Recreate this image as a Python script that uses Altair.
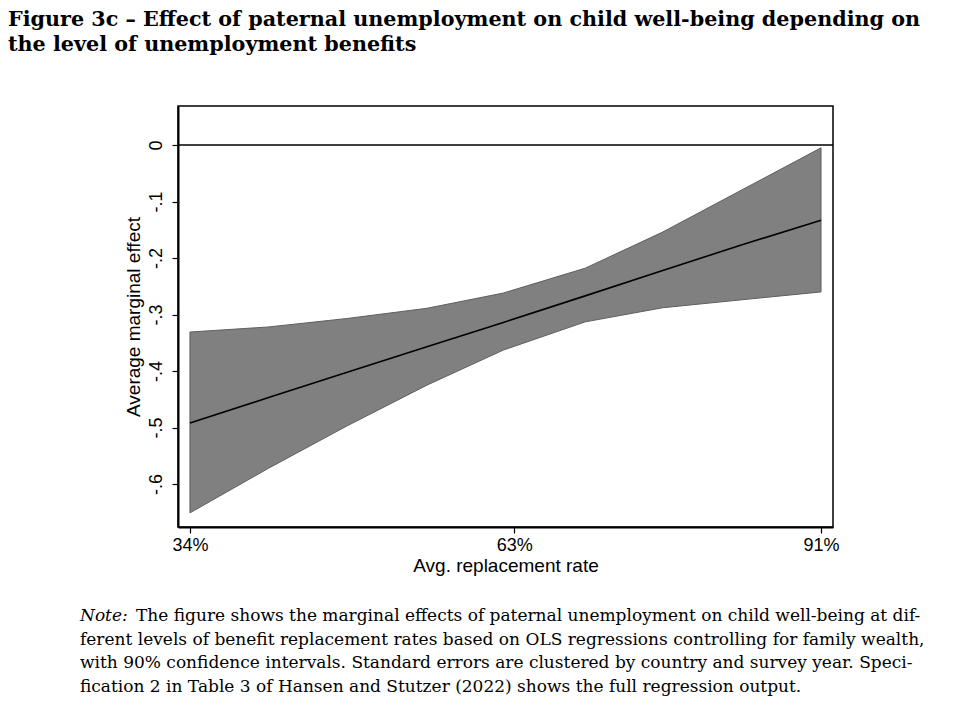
import altair as alt
import pandas as pd

# ---- data ----
rate = [34, 41.1, 48.2, 55.4, 62.3, 69.7, 76.7, 83.8, 91]
effect = [-0.492, -0.447, -0.402, -0.357, -0.314, -0.267, -0.222, -0.177, -0.133]
ci_upper = [-0.331, -0.322, -0.307, -0.289, -0.262, -0.218, -0.154, -0.080, -0.005]
ci_lower = [-0.651, -0.572, -0.497, -0.425, -0.363, -0.313, -0.288, -0.274, -0.260]

x_ticks = [34, 63.3, 91]
x_tick_labels = ["34%", "63%", "91%"]
y_ticks = [0, -0.1, -0.2, -0.3, -0.4, -0.5, -0.6]
y_tick_labels = ["0", "-.1", "-.2", "-.3", "-.4", "-.5", "-.6"]

title_lines = [
    "Figure 3c \u2013 Effect of paternal unemployment on child well-being depending on",
    "the level of unemployment benefits",
]
note_label = "Note:"
note_lines = [
    "The figure shows the marginal effects of paternal unemployment on child well-being at dif-",
    "ferent levels of benefit replacement rates based on OLS regressions controlling for family wealth,",
    "with 90% confidence intervals. Standard errors are clustered by country and survey year. Speci-",
    "fication 2 in Table 3 of Hansen and Stutzer (2022) shows the full regression output.",
]


def label_expr(vals, labels):
    expr = "''"
    for v, l in reversed(list(zip(vals, labels))):
        expr = f"datum.value == {v} ? '{l}' : ({expr})"
    return expr


df = pd.DataFrame({"rate": rate, "effect": effect, "hi": ci_upper, "lo": ci_lower})

x_enc = alt.X(
    "rate:Q",
    scale=alt.Scale(domain=[32.92, 92.08], nice=False, zero=False),
    axis=alt.Axis(
        values=x_ticks,
        labelExpr=label_expr(x_ticks, x_tick_labels),
        title="Avg. replacement rate",
        labelPadding=3,
        titlePadding=2,
    ),
)
y_enc = alt.Y(
    "lo:Q",
    scale=alt.Scale(domain=[-0.676, 0.069], nice=False, zero=False),
    axis=alt.Axis(
        values=y_ticks,
        labelExpr=label_expr(y_ticks, y_tick_labels),
        title="Average marginal effect",
        labelAngle=270,
        labelAlign="center",
        labelBaseline="bottom",
        labelPadding=7,
        titlePadding=4,
    ),
)

band = alt.Chart(df).mark_area(
    color="#808080", stroke="#5e5e5e", strokeWidth=1, opacity=1
).encode(x=x_enc, y=y_enc, y2="hi:Q")

line = alt.Chart(df).mark_line(color="black", strokeWidth=1.6).encode(
    x="rate:Q", y="effect:Q"
)

zero = alt.Chart(pd.DataFrame({"z": [0]})).mark_rule(
    color="black", strokeWidth=1.6
).encode(y="z:Q")


def text_layer(txt, x, y, size, weight="normal", style="normal", font="DejaVu Serif"):
    return alt.Chart(pd.DataFrame({"t": [txt]})).mark_text(
        align="left",
        baseline="alphabetic",
        font=font,
        fontSize=size,
        fontWeight=weight,
        fontStyle=style,
        color="black",
    ).encode(text="t:N", x=alt.value(x), y=alt.value(y))


texts = [
    text_layer(title_lines[0], -170, -80, 20.7, weight="bold"),
    text_layer(title_lines[1], -170, -55, 20.7, weight="bold"),
    text_layer(note_label, -98, 515, 17, style="italic"),
]
note_x = [-42, -98, -98, -98]
note_y = [515, 539, 562, 586]
for t, nx, ny in zip(note_lines, note_x, note_y):
    texts.append(text_layer(t, nx, ny, 17))

chart = (
    alt.layer(band, line, zero, *texts)
    .properties(
        width=655,
        height=421,
        autosize=alt.AutoSizeParams(type="none"),
        padding={"left": 170, "top": 98, "right": 123, "bottom": 185},
        background="white",
    )
    .configure_view(stroke="black", strokeWidth=1.5)
    .configure_axis(
        grid=False,
        domainColor="black",
        domainWidth=2,
        tickColor="black",
        tickWidth=1.2,
        tickSize=6,
        labelFont="Liberation Sans",
        labelFontSize=18,
        labelColor="black",
        titleFont="Liberation Sans",
        titleFontSize=19,
        titleFontWeight="normal",
        titleColor="black",
    )
)

chart.save("out.html", embed_options={"renderer": "svg", "actions": False})
